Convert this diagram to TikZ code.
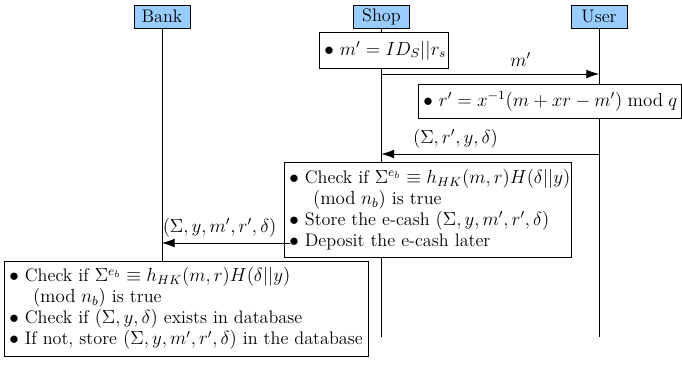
\documentclass[tikz,border=0pt]{standalone}
\usetikzlibrary{arrows.meta}
\definecolor{hdrblue}{RGB}{153,204,255}
\newcommand{\itembul}{\hspace*{2pt}$\bullet$}
\begin{document}
\begin{tikzpicture}[x=0.6334pt,y=-0.6334pt,
  every node/.style={font=\fontsize{11.5}{13.3}\selectfont},
  hdr/.style={draw, fill=hdrblue, minimum width=35.4pt, minimum height=14.6pt, inner sep=0pt},
  stepbox/.style={draw, fill=white, align=left, anchor=north west, inner xsep=1.2pt, inner ysep=0pt},
  msg/.style={-{Latex[length=8pt,width=5.5pt]}}]
\useasboundingbox (0,0) rectangle (682,367);
% headers
\node[hdr] (bank) at (162,16.5) {Bank};
\node[hdr] (shop) at (381.5,16.5) {Shop};
\node[hdr] (user) at (599,16.5) {User};
% lifelines
\coordinate (bankend) at (162,337);
\coordinate (shopend) at (381.5,337);
\coordinate (userend) at (599,337);
\draw (bank) -- (bankend);
\draw (shop) -- (shopend);
\draw (user) -- (userend);
% boxes
\node[stepbox, text width=79.3pt, minimum height=22.8pt] (b1) at (319,32)
  {\mbox{\itembul{} $m' = ID_S||r_s$}};
\node[stepbox, text width=164.1pt, minimum height=21.5pt] (b2) at (418,84)
  {\mbox{\itembul{} $r' = x^{-1}(m+xr-m') \bmod q$}};
\node[stepbox, text width=179.3pt, minimum height=60.1pt] (b3) at (284,162)
  {\mbox{\itembul{} Check if $\Sigma^{e_b} \equiv h_{HK}(m,r)H(\delta||y)$}\\
   \mbox{\hspace*{17pt}$(\mathrm{mod}\; n_b)$ is true}\\
   \mbox{\itembul{} Store the e-cash $(\Sigma,y,m',r',\delta)$}\\
   \mbox{\itembul{} Deposit the e-cash later}};
\node[stepbox, text width=228pt, minimum height=60.1pt] (b4) at (4,261)
  {\mbox{\itembul{} Check if $\Sigma^{e_b} \equiv h_{HK}(m,r)H(\delta||y)$}\\
   \mbox{\hspace*{17pt}$(\mathrm{mod}\; n_b)$ is true}\\
   \mbox{\itembul{} Check if $(\Sigma,y,\delta)$ exists in database}\\
   \mbox{\itembul{} If not, store $(\Sigma,y,m',r',\delta)$ in the database}};
% messages
\coordinate (s1) at (381.5,74);
\coordinate (u1) at (599,74);
\draw[msg] (s1) -- node[pos=0.64, above=1pt] (l1) {$m'$} (u1);
\coordinate (u2) at (599,154);
\coordinate (s2) at (381.5,154);
\draw[msg] (u2) -- node[pos=0.66, above=0pt] (l2) {$(\Sigma,r',y,\delta)$} (s2);
\coordinate (s3) at (290,243);
\coordinate (k3) at (162,243);
\draw[msg] (s3) -- node[pos=0.55, above=0pt] (l3) {$(\Sigma,y,m',r',\delta)$} (k3);
\end{tikzpicture}
\end{document}
